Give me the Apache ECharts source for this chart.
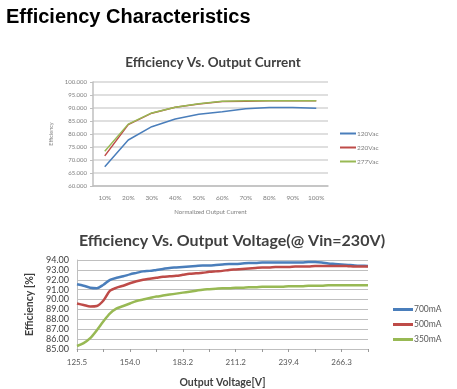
<!DOCTYPE html>
<html><head><meta charset="utf-8">
<script src="https://cdn.jsdelivr.net/npm/echarts@6/dist/echarts.min.js"></script>
<style>html,body{margin:0;padding:0;background:#fff}#c{width:457px;height:389px}</style>
</head><body><div id="c"></div>
<script>
// Top chart: Efficiency vs. normalized output current
const currentCats = ['10%','20%','30%','40%','50%','60%','70%','80%','90%','100%'];
const eff120 = [67.4, 77.7, 82.8, 85.8, 87.6, 88.6, 89.7, 90.2, 90.2, 89.9];
const eff220 = [71.6, 83.6, 88.0, 90.3, 91.5, 92.5, 92.6, 92.8, 92.8, 92.8];
const eff277 = [73.4, 83.8, 88.1, 90.3, 91.6, 92.6, 92.8, 92.8, 92.8, 92.8];
const topNames = ['120Vac', '220Vac', '277Vac'];

// Bottom chart: Efficiency vs. output voltage (Vin = 230V)
const voltCats = [125.5,129.0,132.6,136.1,139.7,143.3,146.8,150.4,154.0,157.6,161.3,164.9,168.6,172.2,175.9,179.5,
  183.2,186.7,190.2,193.7,197.2,200.7,204.2,207.7,211.2,214.7,218.2,221.8,225.3,228.8,232.3,235.9,
  239.4,242.8,246.1,249.5,252.9,256.2,259.6,262.9,266.3,269.7,273.0,276.4,279.8];
const eff700 = [91.55,91.4,91.2,91.15,91.5,92.0,92.2,92.35,92.55,92.7,92.85,92.9,93.0,93.1,93.2,93.25,
  93.3,93.35,93.4,93.45,93.45,93.5,93.55,93.6,93.6,93.65,93.7,93.7,93.75,93.75,93.75,93.75,
  93.75,93.75,93.75,93.8,93.8,93.75,93.65,93.6,93.55,93.5,93.45,93.42,93.4];
const eff500 = [89.6,89.45,89.3,89.35,89.9,90.9,91.2,91.4,91.65,91.85,92.0,92.1,92.2,92.3,92.35,92.4,
  92.5,92.6,92.65,92.7,92.8,92.85,92.9,93.0,93.05,93.1,93.15,93.2,93.25,93.25,93.3,93.3,
  93.3,93.35,93.35,93.35,93.4,93.4,93.4,93.4,93.4,93.38,93.35,93.35,93.35];
const eff350 = [85.3,85.6,86.1,86.9,87.8,88.6,89.1,89.35,89.6,89.85,90.0,90.15,90.3,90.4,90.5,90.6,
  90.7,90.8,90.9,91.0,91.05,91.1,91.15,91.15,91.2,91.2,91.25,91.25,91.3,91.3,91.3,91.3,
  91.35,91.35,91.35,91.4,91.4,91.4,91.45,91.45,91.45,91.45,91.45,91.45,91.45];
const botNames = ['700mA', '500mA', '350mA'];

const BLUE = '#4a7ebb', RED = '#be4b48', GREEN = '#98b954';
const F = 'Lato, "Open Sans", sans-serif';

const chart = echarts.init(document.getElementById('c'), null, {renderer: 'canvas'});
chart.setOption({
  animation: false,
  title: [
    {text: 'Efficiency Characteristics', left: 6, top: 7, padding: 0,
     textStyle: {fontFamily: '"Liberation Sans", Arial, sans-serif', fontWeight: 'bold', fontSize: 20, color: '#000'}},
    {text: 'Efficiency Vs. Output Current', left: 213, top: 56, padding: 0, textAlign: 'center',
     textStyle: {fontFamily: F, fontWeight: 'bold', fontSize: 13.5, color: '#404040'}},
    {text: 'Efficiency Vs. Output Voltage(@ Vin=230V)', left: 232, top: 233, padding: 0, textAlign: 'center',
     textStyle: {fontFamily: F, fontWeight: 'bold', fontSize: 16, color: '#404040'}}
  ],
  legend: [
    {data: topNames, orient: 'vertical', left: 340, top: 130, itemGap: 7, icon: 'rect',
     itemWidth: 16, itemHeight: 2, padding: 0,
     textStyle: {fontFamily: F, fontSize: 6.5, color: '#7f7f7f', padding: [0,0,0,-4]}},
    {data: botNames, orient: 'vertical', left: 393, top: 305, itemGap: 6, icon: 'rect',
     itemWidth: 20, itemHeight: 3, padding: 0,
     textStyle: {fontFamily: F, fontSize: 8.5, color: '#595959', padding: [0,0,0,-4]}}
  ],
  grid: [
    {left: 93, top: 82, width: 235, height: 104},
    {left: 77, top: 260, width: 291, height: 92}
  ],
  xAxis: [
    {type: 'category', gridIndex: 0, data: currentCats, boundaryGap: true,
     axisLine: {lineStyle: {color: '#bfbfbf', width: 1.5}}, axisTick: {show: false},
     axisLabel: {fontFamily: F, fontSize: 6.5, color: '#7f7f7f', margin: 8},
     name: 'Normalized Output Current', nameLocation: 'middle', nameGap: 23,
     nameTextStyle: {fontFamily: F, fontSize: 6, color: '#7f7f7f'}},
    {type: 'category', gridIndex: 1, data: voltCats, boundaryGap: false,
     axisLine: {lineStyle: {color: '#bfbfbf', width: 1}},
     axisTick: {interval: 3, length: 3, lineStyle: {color: '#999'}},
     axisLabel: {interval: 7, fontFamily: F, fontSize: 8, color: '#595959', margin: 9,
       formatter: v => Number(v).toFixed(1)},
     name: 'Output Voltage[V]', nameLocation: 'middle', nameGap: 28,
     nameTextStyle: {fontFamily: F, fontSize: 10.5, fontWeight: 'bold', color: '#404040'}}
  ],
  yAxis: [
    {type: 'value', gridIndex: 0, min: 60, max: 100, interval: 5,
     axisLine: {show: true, lineStyle: {color: '#bfbfbf', width: 1.5}},
     axisTick: {show: true, length: 3, lineStyle: {color: '#bfbfbf'}},
     axisLabel: {fontFamily: F, fontSize: 6, color: '#7f7f7f', margin: 6, formatter: v => v.toFixed(3)},
     splitLine: {lineStyle: {color: '#d4d4d4', width: 1.5}},
     name: 'Efficiency', nameLocation: 'middle', nameGap: 37, nameRotate: 90,
     nameTextStyle: {fontFamily: F, fontSize: 5.5, color: '#7f7f7f'}},
    {type: 'value', gridIndex: 1, min: 85, max: 94, interval: 1,
     axisLine: {show: true, lineStyle: {color: '#bfbfbf'}},
     axisTick: {show: false},
     axisLabel: {fontFamily: F, fontSize: 9, color: '#404040', margin: 8, formatter: v => v.toFixed(2)},
     splitLine: {lineStyle: {color: '#bfbfbf', width: 1}},
     name: 'Efficiency [%]', nameLocation: 'middle', nameGap: 42, nameRotate: 90,
     nameTextStyle: {fontFamily: F, fontSize: 10.5, fontWeight: 'bold', color: '#404040'}}
  ],
  series: [
    {name: topNames[0], type: 'line', xAxisIndex: 0, yAxisIndex: 0, data: eff120, showSymbol: false,
     lineStyle: {color: BLUE, width: 1.5}, itemStyle: {color: BLUE}},
    {name: topNames[1], type: 'line', xAxisIndex: 0, yAxisIndex: 0, data: eff220, showSymbol: false,
     lineStyle: {color: RED, width: 1.5}, itemStyle: {color: RED}},
    {name: topNames[2], type: 'line', xAxisIndex: 0, yAxisIndex: 0, data: eff277, showSymbol: false,
     lineStyle: {color: GREEN, width: 1.5}, itemStyle: {color: GREEN}},
    {name: botNames[0], type: 'line', xAxisIndex: 1, yAxisIndex: 1, data: eff700, showSymbol: false, smooth: 0.3,
     lineStyle: {color: BLUE, width: 2.5}, itemStyle: {color: BLUE}},
    {name: botNames[1], type: 'line', xAxisIndex: 1, yAxisIndex: 1, data: eff500, showSymbol: false, smooth: 0.3,
     lineStyle: {color: RED, width: 2.5}, itemStyle: {color: RED}},
    {name: botNames[2], type: 'line', xAxisIndex: 1, yAxisIndex: 1, data: eff350, showSymbol: false, smooth: 0.3,
     lineStyle: {color: GREEN, width: 2.5}, itemStyle: {color: GREEN}}
  ]
});
</script></body></html>
